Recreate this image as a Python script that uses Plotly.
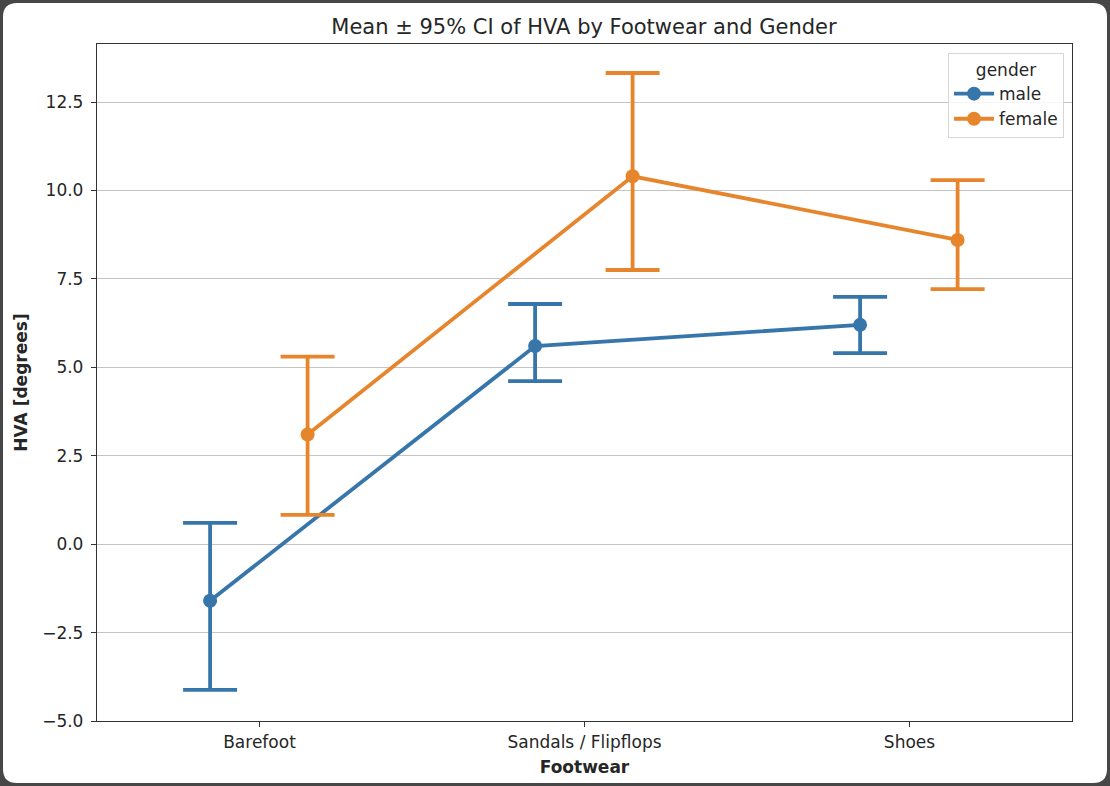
import plotly.graph_objects as go

categories = ["Barefoot", "Sandals / Flipflops", "Shoes"]
genders = ["male", "female"]
male_mean = [-1.6, 5.6, 6.2]
male_lo = [-4.12, 4.61, 5.4]
male_hi = [0.6, 6.79, 6.99]
female_mean = [3.1, 10.4, 8.6]
female_lo = [0.83, 7.75, 7.21]
female_hi = [5.3, 13.32, 10.29]
y_ticks = [-5.0, -2.5, 0.0, 2.5, 5.0, 7.5, 10.0, 12.5]
colors = {"male": "#3776ab", "female": "#e6852c"}
dodge = {"male": -0.152, "female": 0.148}

W, H = 1110, 786
L, R, T, B = 97, 38, 44, 65
pw, ph = W - L - R, H - T - B

def px2paper(x, y):
    return (x - L) / pw, (H - B - y) / ph

fig = go.Figure()

series = {
    "male": (male_mean, male_lo, male_hi),
    "female": (female_mean, female_lo, female_hi),
}
for g in genders:
    m, lo, hi = series[g]
    xs = [i + dodge[g] for i in range(len(categories))]
    fig.add_trace(go.Scatter(
        x=xs, y=m, name=g, mode="lines+markers",
        line=dict(color=colors[g], width=3.8),
        marker=dict(color=colors[g], size=14),
        error_y=dict(type="data", symmetric=False,
                     array=[h - v for h, v in zip(hi, m)],
                     arrayminus=[v - l for v, l in zip(m, lo)],
                     color=colors[g], thickness=3.8, width=27),
    ))

# window frame (dark border with rounded white card)
x0, y0 = px2paper(3, 3)
x1, y1 = px2paper(1107, 783)
rx = 14 / pw
ry = 14 / ph
path = (f"M {x0+rx},{y0} L {x1-rx},{y0} Q {x1},{y0} {x1},{y0-ry} "
        f"L {x1},{y1+ry} Q {x1},{y1} {x1-rx},{y1} L {x0+rx},{y1} "
        f"Q {x0},{y1} {x0},{y1+ry} L {x0},{y0-ry} Q {x0},{y0} {x0+rx},{y0} Z")
fig.add_shape(type="path", path=path, xref="paper", yref="paper",
              fillcolor="white", line=dict(width=0), layer="below")

fig.update_layout(
    width=W, height=H,
    margin=dict(l=L, r=R, t=T, b=B),
    paper_bgcolor="#474747",
    plot_bgcolor="rgba(0,0,0,0)",
    font=dict(family="DejaVu Sans", size=17, color="#262626"),
    title=dict(text="Mean ± 95% CI of HVA by Footwear and Gender",
               x=584 / W, xanchor="center", y=1 - 27 / H, yanchor="middle",
               font=dict(size=21, color="#262626")),
    showlegend=True,
    legend=dict(
        title=dict(text="gender", side="top center", font=dict(size=17)),
        x=px2paper(1064, 0)[0], xanchor="right",
        y=px2paper(0, 53)[1], yanchor="top",
        bgcolor="rgba(255,255,255,0.85)", bordercolor="#d6d6d6", borderwidth=1,
        font=dict(size=17), itemwidth=40,
    ),
    xaxis=dict(
        tickmode="array", tickvals=list(range(len(categories))), ticktext=categories,
        range=[-0.5, 2.5], showgrid=False, zeroline=False,
        showline=True, mirror=True, linecolor="#333333", linewidth=1.3,
        ticks="outside", ticklen=5, tickcolor="#333333",
        title=dict(text="<b>Footwear</b>", font=dict(size=17), standoff=10),
    ),
    yaxis=dict(
        tickmode="array", tickvals=y_ticks, ticktext=[f"{v:.1f}".replace("-", "−") for v in y_ticks],
        range=[-5.0, 14.14], showgrid=True, gridcolor="#c4c4c4", gridwidth=1,
        zeroline=False,
        showline=True, mirror=True, linecolor="#333333", linewidth=1.3,
        ticks="outside", ticklen=5, tickcolor="#333333", ticklabelstandoff=4,
        title=dict(text="<b>HVA [degrees]</b>", font=dict(size=17), standoff=10),
    ),
)

fig.write_html("out.html", config={"displayModeBar": False},
               post_script="document.body.style.margin='0';document.body.style.overflow='hidden';")
